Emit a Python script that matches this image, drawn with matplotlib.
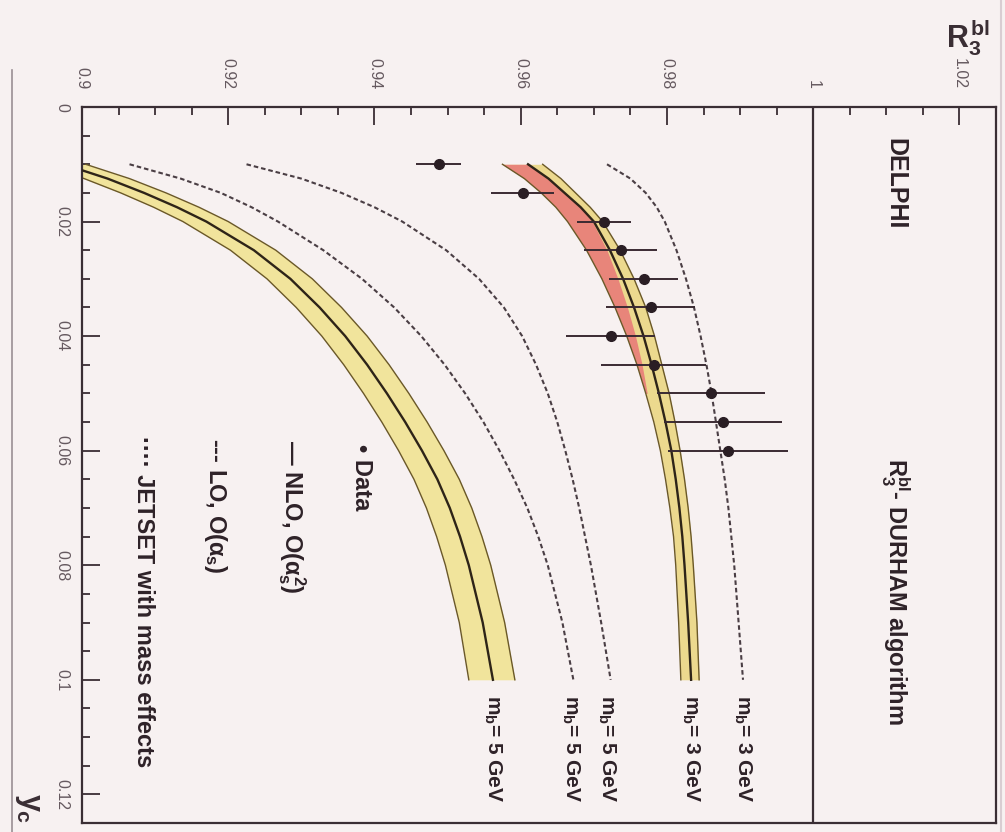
import numpy as np
import matplotlib
matplotlib.use("Agg")
import matplotlib.pyplot as plt
from matplotlib.ticker import MultipleLocator, FuncFormatter
from matplotlib.lines import Line2D

plt.rcParams['font.family'] = ['Liberation Sans', 'DejaVu Sans']
plt.rcParams['mathtext.fontset'] = 'custom'
plt.rcParams['mathtext.rm'] = 'Liberation Sans:bold'
plt.rcParams['mathtext.it'] = 'Liberation Sans:bold'
plt.rcParams['mathtext.bf'] = 'Liberation Sans:bold'

# ---------------- data ----------------
yc_grid = [0.01, 0.0125, 0.015, 0.0175, 0.02, 0.025, 0.03, 0.035, 0.04, 0.045,
           0.05, 0.055, 0.06, 0.065, 0.07, 0.075, 0.08, 0.09, 0.1]

# NLO, mb = 5 GeV (lower band)
nlo5_c  = [0.8975, 0.9035, 0.9085, 0.9130, 0.9170, 0.9235, 0.9285, 0.9325, 0.9360, 0.9390,
           0.9417, 0.9442, 0.9465, 0.9486, 0.9503, 0.9517, 0.9529, 0.9548, 0.9562]
nlo5_lo = [0.8943, 0.9003, 0.9053, 0.9098, 0.9138, 0.9203, 0.9253, 0.9293, 0.9328, 0.9358,
           0.9385, 0.9410, 0.9433, 0.9454, 0.9471, 0.9485, 0.9497, 0.9516, 0.9529]
nlo5_hi = [0.9005, 0.9065, 0.9115, 0.9160, 0.9200, 0.9265, 0.9315, 0.9355, 0.9390, 0.9420,
           0.9447, 0.9472, 0.9495, 0.9516, 0.9533, 0.9547, 0.9559, 0.9578, 0.9592]

# NLO, mb = 3 GeV (upper band)
nlo3_lo = [0.9575, 0.9605, 0.9628, 0.9648, 0.9664, 0.9690, 0.9711, 0.9729, 0.9745, 0.9759,
           0.9771, 0.9782, 0.9791, 0.9798, 0.9804, 0.9809, 0.9812, 0.9816, 0.9819]
nlo3_c  = [0.9610, 0.9638, 0.9660, 0.9682, 0.9700, 0.9722, 0.9740, 0.9755, 0.9768, 0.9779,
           0.9789, 0.9798, 0.9806, 0.9812, 0.9817, 0.9821, 0.9824, 0.9829, 0.9833]
nlo3_hi = [0.9630, 0.9655, 0.9675, 0.9695, 0.9712, 0.9736, 0.9755, 0.9771, 0.9783, 0.9793,
           0.9803, 0.9811, 0.9818, 0.9824, 0.9829, 0.9833, 0.9836, 0.9841, 0.9844]
# darker (red) part of the upper band at small yc
red_yc = [0.01, 0.0125, 0.015, 0.0175, 0.02, 0.025, 0.03, 0.035, 0.04, 0.045, 0.05]
red_lo = [0.9575, 0.9605, 0.9628, 0.9648, 0.9664, 0.9690, 0.9711, 0.9729, 0.9745, 0.9759, 0.9771]
red_hi = [0.9610, 0.9638, 0.9660, 0.9682, 0.9698, 0.9718, 0.9733, 0.9746, 0.9757, 0.9766, 0.9773]

# LO / JETSET curves
lo5     = [0.9065, 0.9135, 0.9190, 0.9232, 0.9268, 0.9330, 0.9383, 0.9427, 0.9464, 0.9496,
           0.9524, 0.9549, 0.9571, 0.9591, 0.9609, 0.9624, 0.9637, 0.9657, 0.9672]
jetset5 = [0.9225, 0.9300, 0.9355, 0.9400, 0.9438, 0.9498, 0.9543, 0.9577, 0.9602, 0.9621,
           0.9637, 0.9650, 0.9661, 0.9671, 0.9680, 0.9688, 0.9696, 0.9710, 0.9723]
jetset3 = [0.9718, 0.9750, 0.9771, 0.9786, 0.9797, 0.9813, 0.9826, 0.9837, 0.9846, 0.9854,
           0.9861, 0.9867, 0.9873, 0.9879, 0.9884, 0.9888, 0.9892, 0.9898, 0.9904]

# DELPHI data
data_yc  = [0.010, 0.015, 0.020, 0.025, 0.030, 0.035, 0.040, 0.045, 0.050, 0.055, 0.060]
data_r3  = [0.9488, 0.9603, 0.9714, 0.9737, 0.9768, 0.9778, 0.9723, 0.9782, 0.9860, 0.9877, 0.9884]
data_err = [0.0031, 0.0043, 0.0037, 0.0050, 0.0047, 0.0061, 0.0061, 0.0072, 0.0074, 0.0081, 0.0082]

curve_labels = [r"m$_b$= 5 GeV", r"m$_b$= 5 GeV", r"m$_b$= 5 GeV", r"m$_b$= 3 GeV", r"m$_b$= 3 GeV"]
curve_label_r3 = [0.9562, 0.9668, 0.9718, 0.9833, 0.9904]

# ---------------- figure ----------------
W, H = 1005, 832
bg = '#f7f1f1'
ink = '#3a2e34'
fig = plt.figure(figsize=(W/100, H/100), dpi=100, facecolor=bg)
ax = fig.add_axes([82/W, 9/H, 914/W, 716/H], facecolor=bg)
ax.set_xlim(0.9, 1.025)
ax.set_ylim(0.125, 0)

yellow = '#f1e49c'
yellow2 = '#ecd98e'
red = '#e8857a'
edge = '#6a5828'
cline = '#2e2418'

# lower band
ax.fill_betweenx(yc_grid, nlo5_lo, nlo5_hi, color=yellow, lw=0, zorder=1)
ax.plot(nlo5_lo, yc_grid, color=edge, lw=1.0, zorder=2)
ax.plot(nlo5_hi, yc_grid, color=edge, lw=1.0, zorder=2)
ax.plot(nlo5_c, yc_grid, color=cline, lw=1.7, zorder=3)

# upper band
ax.fill_betweenx(yc_grid, nlo3_lo, nlo3_hi, color=yellow2, lw=0, zorder=1)
ax.fill_betweenx(red_yc, red_lo, red_hi, color=red, lw=0, zorder=1.5)
ax.plot(nlo3_lo, yc_grid, color=edge, lw=1.0, zorder=2)
ax.plot(nlo3_hi, yc_grid, color=edge, lw=1.0, zorder=2)
ax.plot(nlo3_c, yc_grid, color=cline, lw=1.7, zorder=3)

dash = (0, (2.2, 1.4))
for c in (lo5, jetset5, jetset3):
    ax.plot(c, yc_grid, color='#4a3e44', lw=1.5, linestyle=dash, zorder=3)

ax.axvline(1.0, color=ink, lw=1.6, zorder=2)

ax.errorbar(data_r3, data_yc, xerr=data_err, fmt='o', color='#2a1e24', ms=7,
            elinewidth=1.4, ecolor='#3a2a32', capsize=0, zorder=5)

# axes styling
for s in ax.spines.values():
    s.set_color(ink)
    s.set_linewidth(1.6)
ax.xaxis.tick_top()
ax.xaxis.set_major_locator(MultipleLocator(0.02))
ax.xaxis.set_minor_locator(MultipleLocator(0.005))
ax.yaxis.set_major_locator(MultipleLocator(0.02))
ax.yaxis.set_minor_locator(MultipleLocator(0.005))
fmt = FuncFormatter(lambda v, _: ("%.2f" % v).rstrip('0').rstrip('.'))
ax.xaxis.set_major_formatter(fmt)
ax.yaxis.set_major_formatter(fmt)
ax.tick_params(which='both', direction='in', top=True, bottom=False, left=True, right=False,
               labeltop=True, labelbottom=False, color=ink, width=1.3)
ax.tick_params(which='major', length=13)
ax.tick_params(which='minor', length=6)
ax.tick_params(axis='x', which='major', pad=13, labelsize=11.5, labelcolor='#65595f', labelrotation=-90)
ax.tick_params(axis='y', which='major', pad=9, labelsize=11.5, labelcolor='#65595f', labelrotation=-90)
for t in ax.get_yticklabels():
    t.set_va('center')

# ---------------- texts (rotated) ----------------
def ftext(x, y, s, size, **kw):
    fig.text(x/W, 1 - y/H, s, rotation=-90, ha='center', va='top', fontsize=size,
             fontweight='bold', color='#2e2228', **kw)

ftext(895, 138, "DELPHI", 18)
ftext(895, 458, r"R$_3^{bl}$- DURHAM algorithm", 17)

for lab, r3 in zip(curve_labels, curve_label_r3):
    xp = ax.transData.transform((r3, 0.1))[0]
    ftext(xp, 695, lab, 15)

# legend
ftext(361, 444, "\u2022 Data", 17)
ftext(292, 440, "\u2014 NLO, O(" + r"$\alpha_s^2$" + ")", 17)
ftext(215, 438, r"--- LO, O($\alpha_s$)", 17)
ftext(143, 436, "\u00b7\u00b7\u00b7\u00b7 JETSET with mass effects", 17)

# axis titles
fig.text(968/W, 1 - 38/H, r"$R_3^{bl}$", ha='center', va='center', fontsize=22, color='#3a2e34')
fig.text(28/W, 1 - 808/H, r"$y_c$", rotation=-90, ha='center', va='center', fontsize=22, color='#3a2e34')

# page edges of the scan
fig.add_artist(Line2D([12/W, 12/W], [0, 1 - 70/H], color='#9a8f94', lw=1.2))
fig.add_artist(Line2D([1001/W, 1001/W], [0, 1], color='#d9cdd2', lw=1.5))

fig.savefig("out.png", dpi=100, facecolor=bg)
